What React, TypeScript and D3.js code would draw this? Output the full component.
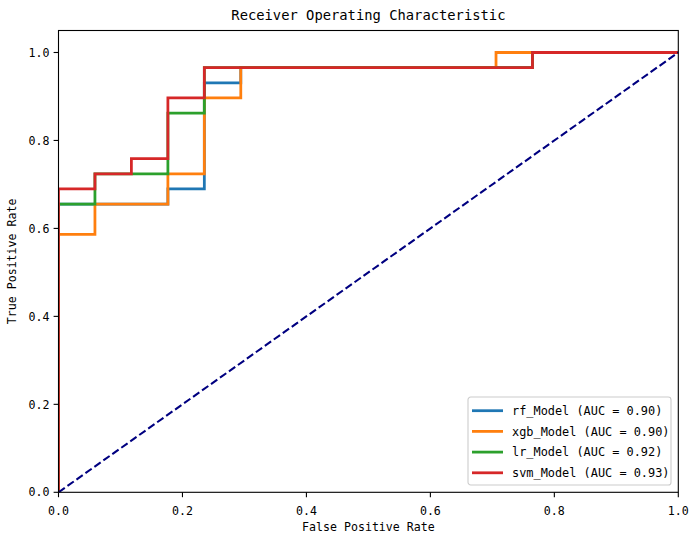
import React from "react";
import { scaleLinear, line } from "d3";

// ROC points (sklearn style, one vertex per threshold)
const rfFpr = [0, 0, 0.1765, 0.1765, 0.2353, 0.2353, 0.2941, 0.2941, 0.7647, 0.7647, 1];
const rfTpr = [0, 0.6552, 0.6552, 0.6897, 0.6897, 0.931, 0.931, 0.9655, 0.9655, 1, 1];

const xgbFpr = [0, 0, 0.0588, 0.0588, 0.1765, 0.1765, 0.2353, 0.2353, 0.2941, 0.2941, 0.7059, 0.7059, 1];
const xgbTpr = [0, 0.5862, 0.5862, 0.6552, 0.6552, 0.7241, 0.7241, 0.8966, 0.8966, 0.9655, 0.9655, 1, 1];

const lrFpr = [0, 0, 0.0588, 0.0588, 0.1765, 0.1765, 0.2353, 0.2353, 0.7647, 0.7647, 1];
const lrTpr = [0, 0.6552, 0.6552, 0.7241, 0.7241, 0.8621, 0.8621, 0.9655, 0.9655, 1, 1];

const svmFpr = [0, 0, 0.0588, 0.0588, 0.1176, 0.1176, 0.1765, 0.1765, 0.2353, 0.2353, 0.7647, 0.7647, 1];
const svmTpr = [0, 0.6897, 0.6897, 0.7241, 0.7241, 0.7586, 0.7586, 0.8966, 0.8966, 0.9655, 0.9655, 1, 1];

const modelNames = ["rf_Model", "xgb_Model", "lr_Model", "svm_Model"];
const aucValues = [0.9, 0.9, 0.92, 0.93];
const colors = ["#1f77b4", "#ff7f0e", "#2ca02c", "#d62728"];
const xTicks = [0, 0.2, 0.4, 0.6, 0.8, 1.0];
const yTicks = [0, 0.2, 0.4, 0.6, 0.8, 1.0];

const W = 698;
const H = 541;
const margin = { top: 30.5, right: 19.7, bottom: 48.7, left: 58.5 };
const font = "'DejaVu Sans Mono', 'Liberation Mono', monospace";

const App: React.FC = () => {
  const innerW = W - margin.left - margin.right;
  const innerH = H - margin.top - margin.bottom;

  const x = scaleLinear().domain([0, 1]).range([0, innerW]);
  const y = scaleLinear().domain([0, 1.05]).range([innerH, 0]);

  const series = [
    { fpr: rfFpr, tpr: rfTpr },
    { fpr: xgbFpr, tpr: xgbTpr },
    { fpr: lrFpr, tpr: lrTpr },
    { fpr: svmFpr, tpr: svmTpr },
  ];

  const path = line<number[]>()
    .x((d) => x(d[0]))
    .y((d) => y(d[1]));

  const legX = 468 - margin.left;
  const legY = 397 - margin.top;

  return (
    <>
      <style>{`body{margin:0}`}</style>
      <svg width={W} height={H} style={{ display: "block", background: "#fff" }}>
        <g transform={`translate(${margin.left},${margin.top})`}>
          <defs>
            <clipPath id="plot">
              <rect x={0} y={0} width={innerW} height={innerH} />
            </clipPath>
          </defs>

          <g clipPath="url(#plot)">
            {series.map((s, i) => (
              <path
                key={modelNames[i]}
                d={path(s.fpr.map((f, j) => [f, s.tpr[j]])) || ""}
                fill="none"
                stroke={colors[i]}
                strokeWidth={2.78}
              />
            ))}
            <path
              d={path([[0, 0], [1, 1]]) || ""}
              fill="none"
              stroke="navy"
              strokeWidth={2.08}
              strokeDasharray="7.7,3.3"
            />
          </g>

          {/* frame */}
          <rect x={0} y={0} width={innerW} height={innerH} fill="none" stroke="#000" strokeWidth={1.1} />

          {/* x axis */}
          {xTicks.map((t) => (
            <g key={"x" + t} transform={`translate(${x(t)},${innerH})`}>
              <line y2={4.9} stroke="#000" strokeWidth={1.1} />
              <text y={23} textAnchor="middle" fontFamily={font} fontSize={11.6} fill="#000">
                {t.toFixed(1)}
              </text>
            </g>
          ))}
          {/* y axis */}
          {yTicks.map((t) => (
            <g key={"y" + t} transform={`translate(0,${y(t)})`}>
              <line x2={-4.9} stroke="#000" strokeWidth={1.1} />
              <text x={-9} dy="0.36em" textAnchor="end" fontFamily={font} fontSize={11.6} fill="#000">
                {t.toFixed(1)}
              </text>
            </g>
          ))}

          <text
            x={innerW / 2}
            y={innerH + 39}
            textAnchor="middle"
            fontFamily={font}
            fontSize={11.6}
            fill="#000"
          >
            False Positive Rate
          </text>
          <text
            transform={`translate(${-43},${innerH / 2}) rotate(-90)`}
            textAnchor="middle"
            fontFamily={font}
            fontSize={11.6}
            fill="#000"
          >
            True Positive Rate
          </text>
          <text
            x={innerW / 2}
            y={-11}
            textAnchor="middle"
            fontFamily={font}
            fontSize={13.8}
            fill="#000"
          >
            Receiver Operating Characteristic
          </text>

          {/* legend */}
          <g transform={`translate(${legX},${legY})`}>
            <rect
              x={0}
              y={0}
              width={203}
              height={88}
              rx={2.8}
              fill="#fff"
              fillOpacity={0.8}
              stroke="#cccccc"
              strokeWidth={1.1}
            />
            {modelNames.map((name, i) => (
              <g key={name} transform={`translate(0,${13.7 + i * 20.7})`}>
                <line x1={4} x2={35} stroke={colors[i]} strokeWidth={2.78} />
                <text x={44} dy="0.36em" fontFamily={font} fontSize={11.9} fill="#000">
                  {`${name} (AUC = ${aucValues[i].toFixed(2)})`}
                </text>
              </g>
            ))}
          </g>
        </g>
      </svg>
    </>
  );
};

export default App;
